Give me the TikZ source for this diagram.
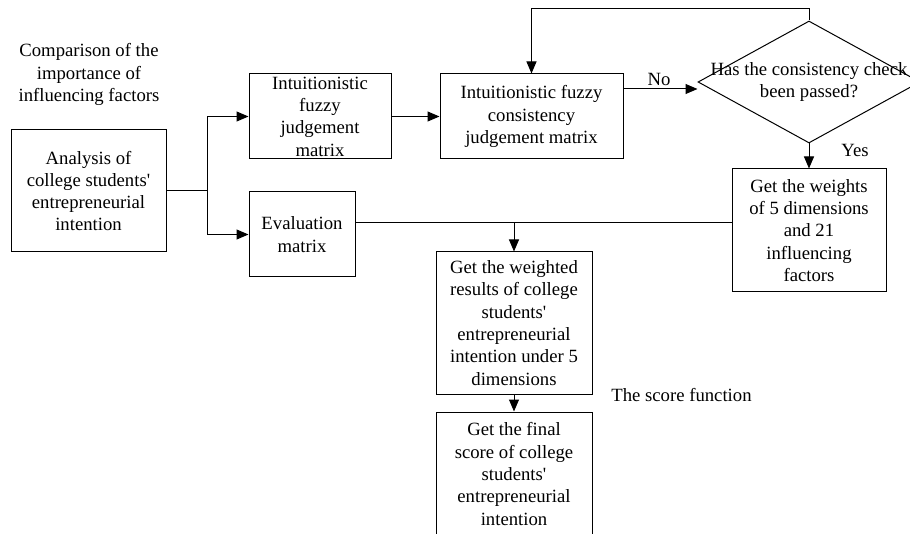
\documentclass[tikz,border=0pt]{standalone}
\usepackage{fontspec}
\setmainfont{Liberation Serif}
\usetikzlibrary{arrows.meta,shapes.geometric}

\begin{document}
\begin{tikzpicture}[x=1pt,y=1pt,line width=1pt,font=\fontsize{18.7}{22.3}\selectfont,
  box/.style={draw,align=center,inner sep=0pt},
  arr/.style={-{Triangle[length=12pt,width=10pt]}}]
\useasboundingbox(0,0)rectangle(910,-534);
\node[align=center](cmp)at(89,-74.5){Comparison of the\\importance of\\influencing factors};
\node[box,minimum width=155pt,minimum height=122pt](ana)at(88.5,-191){Analysis of\\college students\textquotesingle\\entrepreneurial\\intention};
\node[box,minimum width=142pt,minimum height=85pt](ifjm)at(320,-116.5){Intuitionistic\\fuzzy\\judgement\\matrix};
\node[box,minimum width=106pt,minimum height=85pt](em)at(302,-234.5){Evaluation\\matrix};
\node[box,minimum width=183pt,minimum height=85pt](cons)at(531.5,-116.5){Intuitionistic fuzzy\\consistency\\judgement matrix};
\node[draw,diamond,minimum width=222pt,minimum height=122pt,inner sep=0pt](dia)at(809,-82){};
\node[align=center](chk)at(dia.center){Has the consistency check\\been passed?};
\node[box,minimum width=154pt,minimum height=123pt](wts)at(809,-230.5){Get the weights\\of 5 dimensions\\and 21\\influencing\\factors};
\node[box,minimum width=156pt,minimum height=142pt](res)at(514,-323){Get the weighted\\results of college\\students\textquotesingle\\entrepreneurial\\intention under 5\\dimensions};
\node[box,minimum width=156pt,minimum height=124pt](fin)at(514,-474){Get the final\\score of college\\students\textquotesingle\\entrepreneurial\\intention};
\node(sf)at(681.5,-395){The score function};
\node(no)at(659,-79){No};
\node(yes)at(855,-150){Yes};
% connectors
\draw(ana.east)--++(41,0)coordinate(br);
\draw[arr](br)|-(ifjm.west);
\draw[arr](br)|-(em.west);
\draw[arr](ifjm.east)--(cons.west);
\draw[arr]([yshift=-7pt]dia.west-|cons.east)--([yshift=-7pt]dia.west);
\draw[arr](dia.north)--++(0,12)-|(cons.north);
\draw[arr](dia.south)--(wts.north);
\path([yshift=11.5pt]em.east)coordinate(ev);
\draw(ev)--(ev-|wts.west);
\draw[arr](ev-|res.north)--(res.north);
\draw[arr](res.south)--(fin.north);
\end{tikzpicture}
\end{document}
